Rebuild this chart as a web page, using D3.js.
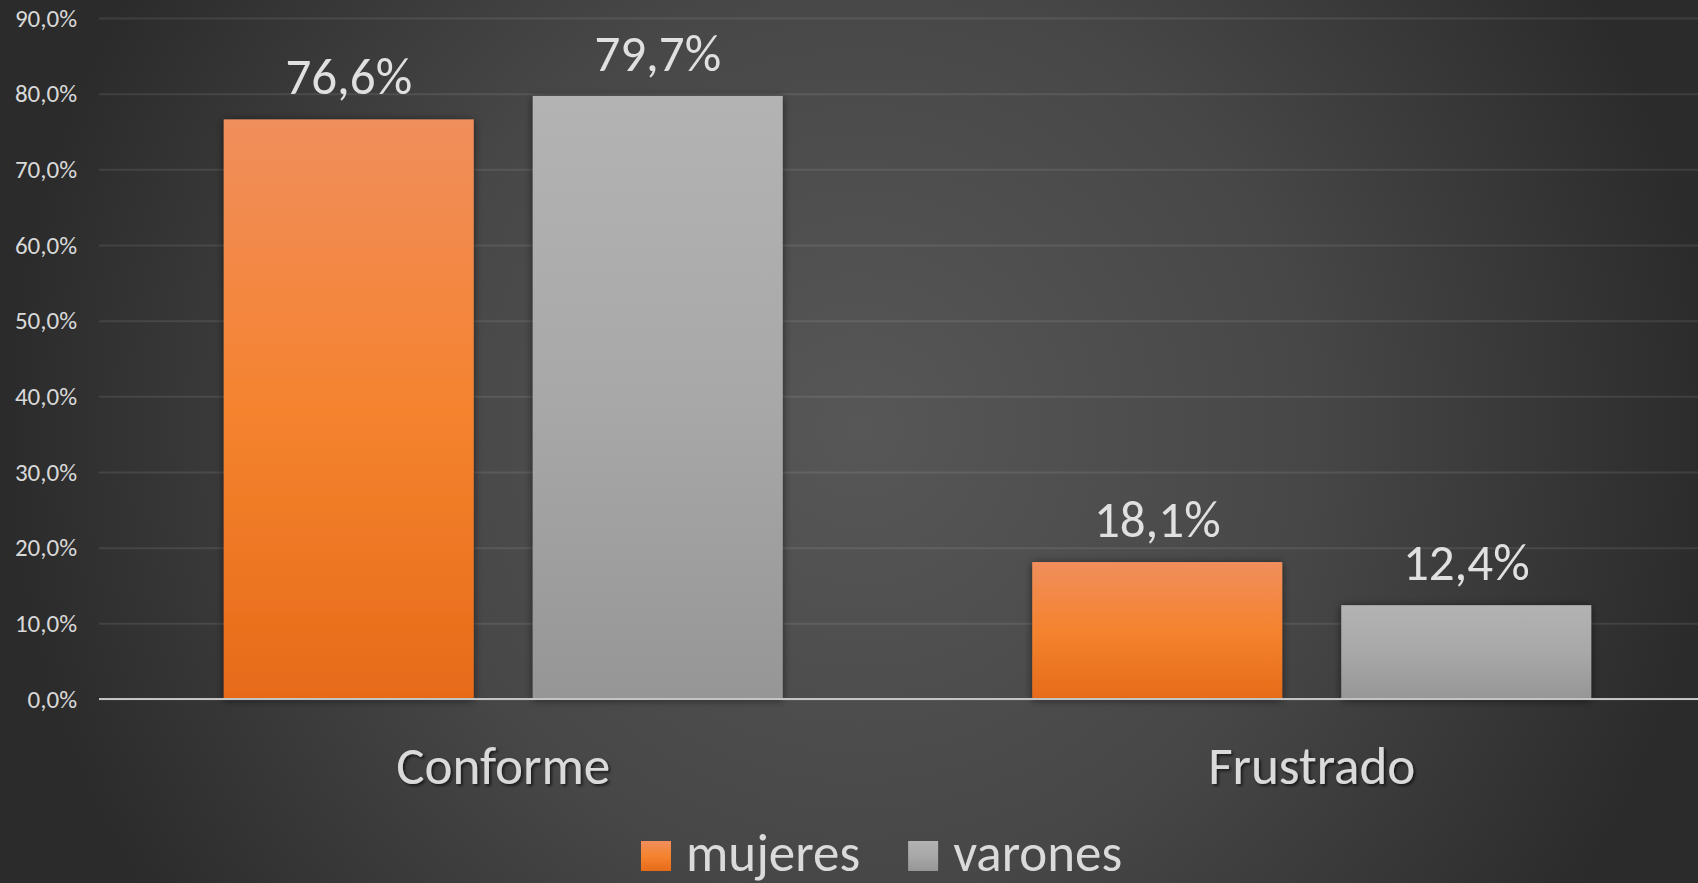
<!DOCTYPE html>
<html>
<head>
<meta charset="utf-8">
<script src="https://cdn.jsdelivr.net/npm/d3@7"></script>
<style>
  html, body { margin: 0; padding: 0; background: #2b2b2b; }
  svg { display: block; font-family: Calibri, Carlito, Lato, sans-serif; }
</style>
</head>
<body>
<svg id="chart" width="1698" height="883"></svg>
<script>
const categories = ['Conforme', 'Frustrado'];
const series = ['mujeres', 'varones'];
const mujeres = [76.6, 18.1];
const varones = [79.7, 12.4];
const yTicks = [0, 10, 20, 30, 40, 50, 60, 70, 80, 90];

const width = 1698;
const height = 883;
const svg = d3.select('#chart');
const fmt = (v) => d3.format('.1f')(v).replace('.', ',') + '%';

const defs = svg.append('defs');

const bg = defs.append('radialGradient')
  .attr('id', 'bg')
  .attr('gradientUnits', 'userSpaceOnUse')
  .attr('cx', 860).attr('cy', 430).attr('r', 900);
bg.append('stop').attr('offset', 0).attr('stop-color', '#575757');
bg.append('stop').attr('offset', 0.5).attr('stop-color', '#474747');
bg.append('stop').attr('offset', 0.95).attr('stop-color', '#2b2b2b');

const barColors = {
  mujeres: ['#f08e5c', '#f5832f', '#e66b19'],
  varones: ['#b3b3b3', '#a8a8a8', '#969696'],
};
Object.entries(barColors).forEach(([key, stops]) => {
  const g = defs.append('linearGradient')
    .attr('id', 'grad-' + key)
    .attr('x1', 0).attr('y1', 0).attr('x2', 0).attr('y2', 1);
  g.append('stop').attr('offset', 0).attr('stop-color', stops[0]);
  g.append('stop').attr('offset', 0.5).attr('stop-color', stops[1]);
  g.append('stop').attr('offset', 1).attr('stop-color', stops[2]);
});

const shadow = defs.append('filter')
  .attr('id', 'barShadow')
  .attr('x', '-10%').attr('y', '-10%').attr('width', '120%').attr('height', '120%');
shadow.append('feDropShadow')
  .attr('dx', 0).attr('dy', 1).attr('stdDeviation', 4)
  .attr('flood-color', '#000').attr('flood-opacity', 0.55);

const textShadow = defs.append('filter')
  .attr('id', 'textShadow')
  .attr('x', '-10%').attr('y', '-20%').attr('width', '120%').attr('height', '150%');
textShadow.append('feDropShadow')
  .attr('dx', 2).attr('dy', 2).attr('stdDeviation', 1.5)
  .attr('flood-color', '#000').attr('flood-opacity', 0.6);

svg.append('rect')
  .attr('width', width).attr('height', height)
  .attr('fill', 'url(#bg)');

const x0 = d3.scaleBand()
  .domain(categories)
  .range([99, 1716])
  .paddingInner(0.3086)
  .paddingOuter(0.1543);

const x1 = d3.scaleBand()
  .domain(series)
  .range([0, x0.bandwidth()])
  .paddingInner(0.191);

const y = d3.scaleLinear()
  .domain([0, 90])
  .range([699, 18]);

// gridlines + tick labels
const yAxis = svg.append('g')
  .attr('transform', 'translate(99,0)')
  .call(d3.axisLeft(y).tickValues(yTicks).tickSize(-(1716 - 99)).tickFormat(fmt));
yAxis.select('.domain').remove();
yAxis.selectAll('.tick line')
  .attr('stroke', '#ffffff')
  .attr('stroke-opacity', 0.09)
  .attr('stroke-width', 2);
yAxis.selectAll('.tick text')
  .attr('x', -22)
  .attr('fill', '#d9d9d9')
  .attr('font-size', 25)
  .attr('font-family', 'Calibri, Carlito, Lato, sans-serif');

const data = categories.map((c, i) => ({
  category: c,
  values: [
    { key: 'mujeres', value: mujeres[i] },
    { key: 'varones', value: varones[i] },
  ],
}));

const groups = svg.append('g')
  .selectAll('g')
  .data(data)
  .join('g')
  .attr('transform', (d) => `translate(${x0(d.category)},0)`);

groups.selectAll('rect')
  .data((d) => d.values)
  .join('rect')
  .attr('x', (d) => x1(d.key))
  .attr('y', (d) => y(d.value))
  .attr('width', x1.bandwidth())
  .attr('height', (d) => y(0) - y(d.value))
  .attr('fill', (d) => `url(#grad-${d.key})`)
  .attr('filter', 'url(#barShadow)');

groups.selectAll('text.value')
  .data((d) => d.values)
  .join('text')
  .attr('class', 'value')
  .attr('x', (d) => x1(d.key) + x1.bandwidth() / 2)
  .attr('y', (d) => y(d.value) - 25)
  .attr('text-anchor', 'middle')
  .attr('fill', '#e0e0e0')
  .attr('font-size', 51)
  .text((d) => fmt(d.value));

// baseline
svg.append('line')
  .attr('x1', 99).attr('x2', 1716)
  .attr('y1', y(0)).attr('y2', y(0))
  .attr('stroke', '#c4c4c4')
  .attr('stroke-width', 2);

// category labels
svg.append('g')
  .selectAll('text')
  .data(categories)
  .join('text')
  .attr('x', (d) => x0(d) + x0.bandwidth() / 2)
  .attr('y', 784)
  .attr('text-anchor', 'middle')
  .attr('fill', '#dadada')
  .attr('font-size', 53)
  .attr('filter', 'url(#textShadow)')
  .text((d) => d);

// legend
const legend = svg.append('g').attr('transform', 'translate(641,0)');
let lx = 0;
series.forEach((s) => {
  legend.append('rect')
    .attr('x', lx).attr('y', 841)
    .attr('width', 30).attr('height', 30)
    .attr('fill', `url(#grad-${s})`);
  const t = legend.append('text')
    .attr('x', lx + 45).attr('y', 871)
    .attr('fill', '#dadada')
    .attr('font-size', 53)
    .text(s);
  lx += 45 + t.node().getComputedTextLength() + 48;
});
</script>
</body>
</html>
